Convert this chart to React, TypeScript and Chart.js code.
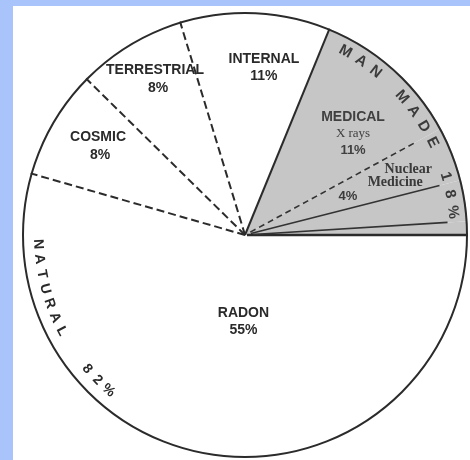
import React, { useEffect, useRef } from "react";
import { Chart, registerables } from "chart.js";

Chart.register(...registerables);

// ---- data ----
const categories = [
  "RADON",
  "COSMIC",
  "TERRESTRIAL",
  "INTERNAL",
  "MEDICAL X rays",
  "Nuclear Medicine",
  "Consumer products",
  "Other",
];
const shares = [55, 8, 8, 11, 11, 4, 3, 1];
const groups = ["NATURAL", "NATURAL", "NATURAL", "NATURAL", "MAN MADE", "MAN MADE", "MAN MADE", "MAN MADE"];
const sliceLabelText = [
  ["RADON", "55%"],
  ["COSMIC", "8%"],
  ["TERRESTRIAL", "8%"],
  ["INTERNAL", "11%"],
  ["MEDICAL", "X rays", "11%"],
  ["Nuclear", "Medicine"],
  [],
  [],
];
const extraLabelText = [{ slice: 5, text: "4%" }];
const naturalLabel = "NATURAL  82%";
const manMadeLabel = "MAN MADE 18%";

// ---- styles ----
const groupColors: Record<string, string> = { NATURAL: "#ffffff", "MAN MADE": "#c6c6c6" };
const SANS = "'Liberation Sans', Arial, sans-serif";
const SERIF = "'Liberation Serif', 'Times New Roman', serif";
const natFont = `bold 14px ${SANS}`;

// placement of each slice's label block: angle offset from the slice middle (deg), radius (px)
const labelPlacement = [
  { dAng: -7, r: 87, fonts: [natFont, natFont], lineH: 17, dx: [0, 0], color: "#2a2a2a" },
  { dAng: 1, r: 172, fonts: [natFont, natFont], lineH: 18, dx: [0, 2], color: "#2a2a2a" },
  { dAng: 1.2, r: 180, fonts: [natFont, natFont], lineH: 18, dx: [0, 3], color: "#2a2a2a" },
  { dAng: 3.8, r: 168, fonts: [natFont, natFont], lineH: 17, dx: [0, 0], color: "#2a2a2a" },
  {
    dAng: 5,
    r: 148,
    fonts: [`bold 14px ${SANS}`, `13px ${SERIF}`, `bold 13px ${SANS}`],
    lineH: 17,
    dx: [0, 0, 0],
    color: "#404040",
  },
  { dAng: 0.7, r: 167, fonts: [`bold 14px ${SERIF}`, `bold 14px ${SERIF}`], lineH: 13, dx: [7, -6], color: "#3a3a3a" },
  null,
  null,
];
const extraPlacement = [{ dAng: 0.7, r: 110, font: `bold 13px ${SANS}`, color: "#3a3a3a" }];

// divider drawn on the start edge of each slice
const dividerStyles = [
  { dash: [] as number[], width: 2.5, len: 1, r0: 2, color: "#2b2b2b" },
  { dash: [8, 4], width: 2, len: 1, r0: 0, color: "#2b2b2b" },
  { dash: [8, 4], width: 2, len: 1, r0: 0, color: "#2b2b2b" },
  { dash: [8, 4], width: 2, len: 1, r0: 0, color: "#2b2b2b" },
  { dash: [] as number[], width: 2, len: 1, r0: 0, color: "#2b2b2b" },
  { dash: [6, 4], width: 1.6, len: 0.875, r0: 6, color: "#333333" },
  { dash: [] as number[], width: 1.6, len: 0.9, r0: 6, color: "#333333" },
  { dash: [] as number[], width: 1.6, len: 0.91, r0: 8, color: "#333333" },
];

const curvedLabels = [
  { text: naturalLabel, startDeg: 177.5, stepDeg: -4.2, r: 207, outward: false, font: `bold 14px ${SANS}`, color: "#2a2a2a" },
  { text: manMadeLabel, startDeg: -61.3, stepDeg: 5.0, r: 209, outward: true, font: `bold 15px ${SANS}`, color: "#3a3a3a" },
];

const DEG = Math.PI / 180;

const decorPlugin = {
  id: "pieDecor",
  afterDatasetsDraw(chart: any) {
    const ctx: CanvasRenderingContext2D = chart.ctx;
    const meta = chart.getDatasetMeta(0);
    const arcs = meta.data as any[];
    if (!arcs.length) return;
    const p0 = arcs[0].getProps(["x", "y", "outerRadius"], true);
    const cx = p0.x;
    const cy = p0.y;
    const R = p0.outerRadius;
    ctx.save();

    // radial dividers
    arcs.forEach((arc, i) => {
      const { startAngle } = arc.getProps(["startAngle"], true);
      const st = dividerStyles[i];
      ctx.beginPath();
      ctx.setLineDash(st.dash);
      ctx.lineWidth = st.width;
      ctx.strokeStyle = st.color;
      ctx.lineCap = "butt";
      ctx.moveTo(cx + st.r0 * Math.cos(startAngle), cy + st.r0 * Math.sin(startAngle));
      ctx.lineTo(cx + R * st.len * Math.cos(startAngle), cy + R * st.len * Math.sin(startAngle));
      ctx.stroke();
    });

    // outer circle
    ctx.setLineDash([]);
    ctx.beginPath();
    ctx.lineWidth = 2;
    ctx.strokeStyle = "#2b2b2b";
    ctx.arc(cx, cy, R - 1, 0, Math.PI * 2);
    ctx.stroke();

    // slice labels
    ctx.textAlign = "center";
    ctx.textBaseline = "middle";
    arcs.forEach((arc, i) => {
      const pl = labelPlacement[i];
      const lines = sliceLabelText[i];
      if (!pl || !lines.length) return;
      const { startAngle, endAngle } = arc.getProps(["startAngle", "endAngle"], true);
      const a = (startAngle + endAngle) / 2 + pl.dAng * DEG;
      const bx = cx + pl.r * Math.cos(a);
      const by = cy + pl.r * Math.sin(a);
      const top = by - ((lines.length - 1) * pl.lineH) / 2;
      ctx.fillStyle = pl.color;
      lines.forEach((t, k) => {
        ctx.font = pl.fonts[k];
        ctx.fillText(t, bx + pl.dx[k], top + k * pl.lineH);
      });
    });
    extraLabelText.forEach((ex, k) => {
      const pl = extraPlacement[k];
      const { startAngle, endAngle } = arcs[ex.slice].getProps(["startAngle", "endAngle"], true);
      const a = (startAngle + endAngle) / 2 + pl.dAng * DEG;
      ctx.font = pl.font;
      ctx.fillStyle = pl.color;
      ctx.fillText(ex.text, cx + pl.r * Math.cos(a), cy + pl.r * Math.sin(a));
    });

    // curved group labels
    curvedLabels.forEach((cl) => {
      ctx.font = cl.font;
      ctx.fillStyle = cl.color;
      Array.from(cl.text).forEach((ch, k) => {
        if (ch === " ") return;
        const a = (cl.startDeg + k * cl.stepDeg) * DEG;
        const x = cx + cl.r * Math.cos(a);
        const y = cy + cl.r * Math.sin(a);
        ctx.save();
        ctx.translate(x, y);
        ctx.rotate(cl.outward ? a + Math.PI / 2 : a - Math.PI / 2);
        ctx.fillText(ch, 0, 0);
        ctx.restore();
      });
    });

    ctx.restore();
  },
};

export default function App() {
  const canvasRef = useRef<HTMLCanvasElement | null>(null);

  useEffect(() => {
    if (!canvasRef.current) return;
    const chart = new Chart(canvasRef.current, {
      type: "pie",
      data: {
        labels: categories,
        datasets: [
          {
            data: shares,
            backgroundColor: groups.map((g) => groupColors[g]),
            borderWidth: 0,
            clip: false as any,
          } as any,
        ],
      },
      options: {
        responsive: false,
        animation: false,
        rotation: 90,
        radius: 223,
        events: [],
        layout: { padding: { left: 22, right: 2, top: 12, bottom: 2 } },
        plugins: { legend: { display: false }, tooltip: { enabled: false } },
      } as any,
      plugins: [decorPlugin],
    });
    return () => chart.destroy();
  }, []);

  return (
    <div
      style={{
        position: "fixed",
        left: 0,
        top: 0,
        width: 470,
        height: 460,
        background: "#a9c4fa",
        overflow: "hidden",
      }}
    >
      <div
        style={{
          position: "absolute",
          left: 13,
          top: 6,
          width: 457,
          height: 454,
          background: "#ffffff",
        }}
      />
      <canvas
        ref={canvasRef}
        width={470}
        height={460}
        style={{ position: "absolute", left: 0, top: 0, width: 470, height: 460 }}
      />
    </div>
  );
}
